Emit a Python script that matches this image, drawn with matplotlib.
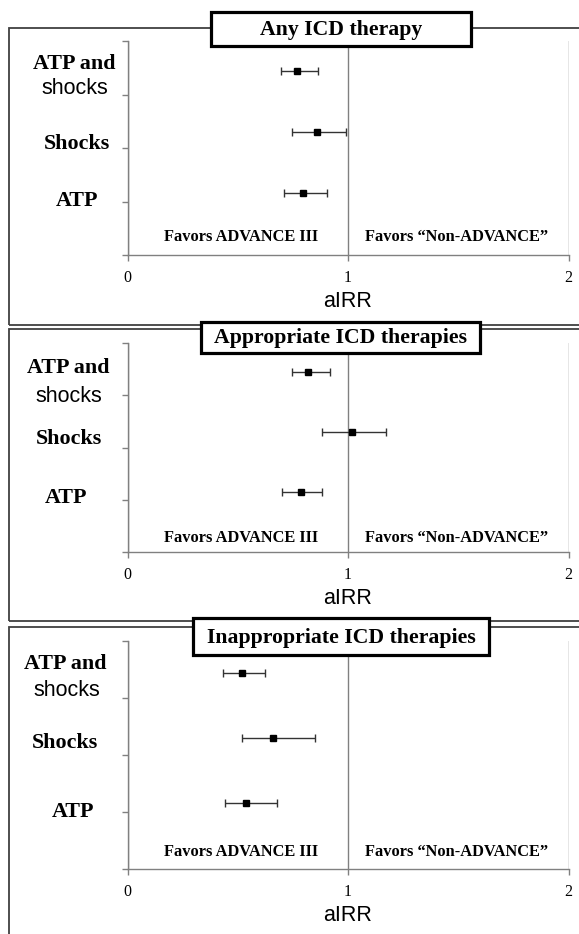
import matplotlib
matplotlib.use("Agg")
import matplotlib.pyplot as plt
from matplotlib.patches import Rectangle

# Data (adjusted incidence rate ratios with 95% CI)
outcomes = ["ATP and shocks", "Shocks", "ATP"]
y_pos = [3.44, 2.30, 1.15]

panel_titles = ["Any ICD therapy", "Appropriate ICD therapies", "Inappropriate ICD therapies"]

any_est = [0.767, 0.859, 0.797]
any_lo = [0.695, 0.744, 0.712]
any_hi = [0.863, 0.990, 0.905]

appr_est = [0.817, 1.017, 0.789]
appr_lo = [0.744, 0.884, 0.702]
appr_hi = [0.920, 1.173, 0.884]

inappr_est = [0.521, 0.658, 0.538]
inappr_lo = [0.432, 0.521, 0.442]
inappr_hi = [0.623, 0.851, 0.680]

x_ticks = [0, 1, 2]

W, H = 579, 934
fig = plt.figure(figsize=(W / 100, H / 100), dpi=100)

SERIF = "Liberation Serif"
SANS = "Liberation Sans"
GREY = "#808080"


def fx(px):
    return px / W


def fy(py):
    return 1 - py / H


panels = [
    dict(est=any_est, lo=any_lo, hi=any_hi, top=41, bot=255, ftop=28, fbot=325,
         box=(211, 471, 12, 46), lab_y=[64, 88, 144, 201], lab_x=[74, 75, 77, 77], fav=18),
    dict(est=appr_est, lo=appr_lo, hi=appr_hi, top=343, bot=552, ftop=329, fbot=621,
         box=(201, 480, 322, 353), lab_y=[368, 396, 439, 498], lab_x=[68, 69, 69, 66], fav=14),
    dict(est=inappr_est, lo=inappr_lo, hi=inappr_hi, top=641, bot=869, ftop=627, fbot=960,
         box=(193, 489, 618, 655), lab_y=[664, 691, 743, 812], lab_x=[65, 67, 65, 73], fav=17),
]

ax_left, ax_right = 127.5, 568.5

for title, p in zip(panel_titles, panels):
    # outer frame of the panel
    fig.patches.append(Rectangle((fx(9), fy(p["fbot"])), fx(620 - 9), (p["fbot"] - p["ftop"]) / H,
                                 transform=fig.transFigure, fill=False,
                                 edgecolor="#404040", linewidth=1.3, zorder=0))

    ax = fig.add_axes([fx(ax_left), fy(p["bot"]), fx(ax_right - ax_left), (p["bot"] - p["top"]) / H])
    est = p["est"]
    xerr = [[e - l for e, l in zip(est, p["lo"])], [h - e for e, h in zip(est, p["hi"])]]
    ax.errorbar(est, y_pos, xerr=xerr, fmt="s", color="black", ms=4.2,
                ecolor="#333333", elinewidth=1.0, capsize=3.0, capthick=1.0, zorder=3)

    ax.set_xlim(0, 2)
    ax.set_ylim(0, 4)
    ax.set_xticks(x_ticks)
    ax.set_xticklabels([str(t) for t in x_ticks], fontfamily=SERIF, fontsize=11.5)
    ax.set_yticks([0, 1, 2, 3, 4])
    ax.set_yticklabels([])
    ax.tick_params(axis="both", direction="out", length=4, width=1, color=GREY, pad=6.5)
    ax.grid(axis="x", color=GREY, linewidth=1.0)
    ax.set_axisbelow(True)
    for side in ["top", "right"]:
        ax.spines[side].set_visible(False)
    for side in ["left", "bottom"]:
        ax.spines[side].set_color(GREY)
        ax.spines[side].set_linewidth(1.0)

    ax.set_xlabel("aIRR", fontfamily=SANS, fontsize=15.5, labelpad=4)

    # favour annotations
    fav_y = p["fav"] / (p["bot"] - p["top"])
    ax.text(0.517, fav_y, "Favors ADVANCE III", transform=ax.get_xaxis_transform(),
            ha="center", va="center", fontfamily=SERIF, fontweight="bold", fontsize=11.8)
    ax.text(1.494, fav_y, "Favors \u201cNon-ADVANCE\u201d", transform=ax.get_xaxis_transform(),
            ha="center", va="center", fontfamily=SERIF, fontweight="bold", fontsize=11.8)

    # row labels
    ly, lx = p["lab_y"], p["lab_x"]
    fig.text(fx(lx[0]), fy(ly[0]), "ATP and", ha="center", va="center",
             fontfamily=SERIF, fontweight="bold", fontsize=15.8)
    fig.text(fx(lx[1]), fy(ly[1]), "shocks", ha="center", va="center",
             fontfamily=SANS, fontsize=15.5)
    fig.text(fx(lx[2]), fy(ly[2]), "Shocks", ha="center", va="center",
             fontfamily=SERIF, fontweight="bold", fontsize=15.8)
    fig.text(fx(lx[3]), fy(ly[3]), "ATP", ha="center", va="center",
             fontfamily=SERIF, fontweight="bold", fontsize=15.8)

    # boxed panel title
    x0, x1, y0, y1 = p["box"]
    fig.patches.append(Rectangle((fx(x0), fy(y1)), fx(x1 - x0), (y1 - y0) / H,
                                 transform=fig.transFigure, facecolor="white",
                                 edgecolor="black", linewidth=2.3, zorder=4))
    fig.text(fx((x0 + x1) / 2), fy((y0 + y1) / 2 + 1), title, ha="center", va="center",
             fontfamily=SERIF, fontweight="bold", fontsize=15.7, zorder=5)

fig.savefig("out.png", dpi=100)
